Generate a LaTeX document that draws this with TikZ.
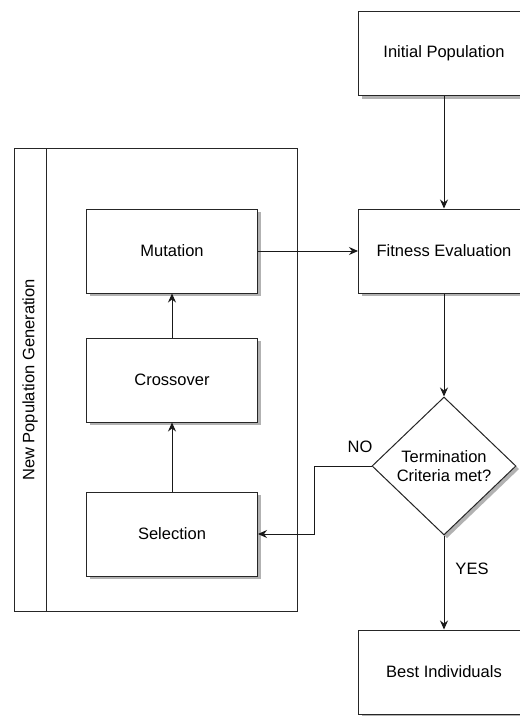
\documentclass[tikz,border=0pt]{standalone}
\usepackage{fontspec}
\setmainfont{Liberation Sans}
\usetikzlibrary{shapes.geometric,arrows.meta}
\begin{document}
\begin{tikzpicture}[x=1pt,y=-1pt,
  every node/.style={font=\fontsize{16.5}{19.5}\selectfont},
  proc/.style={draw=black!85,line width=1pt,fill=white,minimum width=171pt,minimum height=84pt,inner sep=0pt},
  dec/.style={draw=black!85,line width=1pt,fill=white,shape=diamond,minimum width=144pt,minimum height=138pt,inner sep=0pt,align=center},
  shadowfill/.style={fill=black!30,draw=none},
  conn/.style={line width=1pt,draw=black!90,-{Stealth[length=9pt,width=8pt,inset=3pt]}},
  lbl/.style={font=\fontsize{16.5}{19.5}\selectfont}]
\useasboundingbox (0,0) rectangle (520,716);
\clip (0,0) rectangle (520,716);
\fill[white] (0,0) rectangle (520,716);
% shadows (drawn first, beneath the boxes)
\fill[shadowfill] (89.5,212) rectangle (260.5,296);
\fill[shadowfill] (89.5,341) rectangle (260.5,425);
\fill[shadowfill] (89.5,495) rectangle (260.5,579);
\fill[shadowfill] (361.5,14.5) rectangle (532.5,98.5);
\fill[shadowfill] (361.5,212) rectangle (532.5,296);
\fill[shadowfill] (361.5,633) rectangle (532.5,717);
\fill[shadowfill] (447,400) -- (519,469) -- (447,538) -- (375,469) -- cycle;
% container
\draw[line width=1pt,draw=black!85] (14,148) rectangle (297,611);
\draw[line width=1pt,draw=black!85] (46,148) -- (46,611);
\node[rotate=90,lbl] (grp) at (30,380) {New Population Generation};
% nodes
\node[proc] (mut) at (172,251) {Mutation};
\node[proc] (cro) at (172,380) {Crossover};
\node[proc] (sel) at (172,534) {Selection};
\node[proc] (ini) at (444,53.5) {Initial Population};
\node[proc] (fit) at (444,251) {Fitness Evaluation};
\node[dec] (dia) at (444,466) {Termination\\Criteria met?};
\node[proc] (best) at (444,672) {Best Individuals};
\coordinate (elb) at (314,466);
% connectors
\draw[conn] (ini.south) -- (fit.north);
\draw[conn] (fit.south) -- (dia.north);
\draw[conn] (mut.east) -- (fit.west);
\draw[conn] (sel.north) -- (cro.south);
\draw[conn] (cro.north) -- (mut.south);
\draw[conn] (dia.west) -- (elb) |- (sel.east);
\draw[conn] (dia.south) -- (best.north);
\node[lbl] (no) at (360,447) {NO};
\node[lbl] (yes) at (472,569) {YES};
\end{tikzpicture}
\end{document}
